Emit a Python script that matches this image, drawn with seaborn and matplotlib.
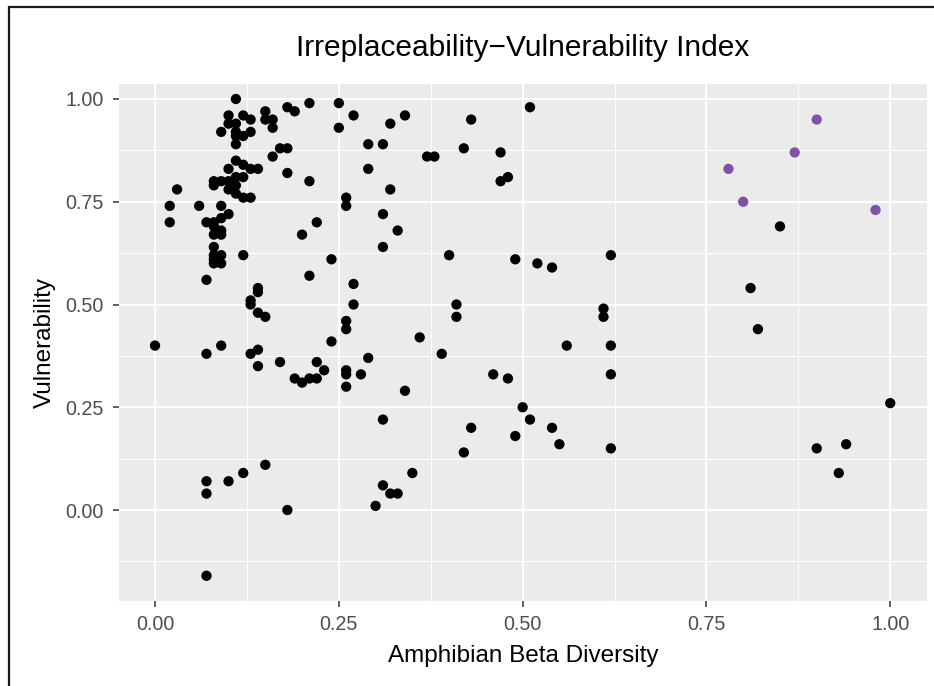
import pandas as pd
import numpy as np
import seaborn as sns
import matplotlib.pyplot as plt
from matplotlib.patches import Rectangle
from matplotlib.ticker import MultipleLocator

# beta diversity (x) and vulnerability (y)
beta = [0.00, 0.02, 0.02, 0.03, 0.06, 0.07, 0.07, 0.07, 0.07, 0.07, 0.07,
        0.08, 0.08, 0.08, 0.08, 0.08, 0.08, 0.08, 0.08, 0.08,
        0.09, 0.09, 0.09, 0.09, 0.09, 0.09, 0.09, 0.09, 0.09,
        0.10, 0.10, 0.10, 0.10, 0.10, 0.10, 0.10,
        0.11, 0.11, 0.11, 0.11, 0.11, 0.11, 0.11, 0.11, 0.11,
        0.12, 0.12, 0.12, 0.12, 0.12, 0.12, 0.12,
        0.13, 0.13, 0.13, 0.13, 0.13, 0.13, 0.13,
        0.14, 0.14, 0.14, 0.14, 0.14, 0.14,
        0.15, 0.15, 0.15, 0.15, 0.16, 0.16, 0.16, 0.17, 0.17,
        0.18, 0.18, 0.18, 0.18, 0.19, 0.19, 0.20, 0.20,
        0.21, 0.21, 0.21, 0.21, 0.22, 0.22, 0.22, 0.23, 0.24, 0.24,
        0.25, 0.25, 0.26, 0.26, 0.26, 0.26, 0.26, 0.26, 0.26,
        0.27, 0.27, 0.27, 0.28, 0.29, 0.29, 0.29, 0.30,
        0.31, 0.31, 0.31, 0.31, 0.31, 0.32, 0.32, 0.32, 0.33, 0.33,
        0.34, 0.34, 0.35, 0.36, 0.37, 0.38, 0.39, 0.40, 0.41, 0.41,
        0.42, 0.42, 0.43, 0.43, 0.46, 0.47, 0.47, 0.48, 0.48, 0.49, 0.49,
        0.50, 0.51, 0.51, 0.52, 0.54, 0.54, 0.55, 0.56,
        0.61, 0.61, 0.62, 0.62, 0.62, 0.62,
        0.81, 0.82, 0.85, 0.90, 0.93, 0.94, 1.00,
        0.78, 0.80, 0.87, 0.90, 0.98]
vuln = [0.40, 0.74, 0.70, 0.78, 0.74, 0.70, 0.56, 0.38, 0.07, 0.04, -0.16,
        0.80, 0.79, 0.70, 0.69, 0.67, 0.64, 0.62, 0.61, 0.60,
        0.92, 0.80, 0.74, 0.71, 0.68, 0.67, 0.62, 0.60, 0.40,
        0.96, 0.94, 0.83, 0.80, 0.78, 0.72, 0.07,
        1.00, 0.94, 0.92, 0.91, 0.89, 0.85, 0.81, 0.79, 0.77,
        0.96, 0.91, 0.84, 0.81, 0.76, 0.62, 0.09,
        0.95, 0.92, 0.83, 0.76, 0.51, 0.50, 0.38,
        0.83, 0.54, 0.53, 0.48, 0.39, 0.35,
        0.97, 0.95, 0.47, 0.11, 0.95, 0.93, 0.86, 0.88, 0.36,
        0.98, 0.88, 0.82, 0.00, 0.97, 0.32, 0.67, 0.31,
        0.99, 0.80, 0.57, 0.32, 0.70, 0.36, 0.32, 0.34, 0.61, 0.41,
        0.99, 0.93, 0.76, 0.74, 0.46, 0.44, 0.34, 0.33, 0.30,
        0.96, 0.55, 0.50, 0.33, 0.89, 0.83, 0.37, 0.01,
        0.89, 0.72, 0.64, 0.22, 0.06, 0.94, 0.78, 0.04, 0.68, 0.04,
        0.96, 0.29, 0.09, 0.42, 0.86, 0.86, 0.38, 0.62, 0.50, 0.47,
        0.88, 0.14, 0.95, 0.20, 0.33, 0.87, 0.80, 0.81, 0.32, 0.61, 0.18,
        0.25, 0.98, 0.22, 0.60, 0.59, 0.20, 0.16, 0.40,
        0.49, 0.47, 0.62, 0.40, 0.33, 0.15,
        0.54, 0.44, 0.69, 0.15, 0.09, 0.16, 0.26,
        0.83, 0.75, 0.87, 0.95, 0.73]
# last five sites are the highlighted ones
group = ["other"] * (len(beta) - 5) + ["top"] * 5

df = pd.DataFrame({"beta": beta, "vuln": vuln, "group": group})

plt.rcParams['font.family'] = ['Liberation Sans', 'DejaVu Sans']

fig = plt.figure(figsize=(9.34, 6.86), dpi=100)
ax = fig.add_axes([119 / 934, 85 / 686, 808 / 934, 517 / 686])
ax.set_facecolor('#EBEBEB')

# ggplot style grid
ax.xaxis.set_major_locator(MultipleLocator(0.25))
ax.yaxis.set_major_locator(MultipleLocator(0.25))
ax.xaxis.set_minor_locator(MultipleLocator(0.125))
ax.yaxis.set_minor_locator(MultipleLocator(0.125))
ax.grid(which='major', color='white', linewidth=1.4)
ax.grid(which='minor', color='white', linewidth=0.7)
ax.set_axisbelow(True)
for s in ax.spines.values():
    s.set_visible(False)

sns.scatterplot(data=df, x="beta", y="vuln", hue="group",
                palette={"other": "black", "top": "#8052A6"},
                s=55, linewidth=0, legend=False, ax=ax, zorder=3)

ax.set_xlim(-0.049, 1.050)
ax.set_ylim((511 - 602) / 411, (511 - 85) / 411)

ax.set_xticks([0, 0.25, 0.5, 0.75, 1.0])
ax.set_xticklabels(["0.00", "0.25", "0.50", "0.75", "1.00"])
ax.set_yticks([0, 0.25, 0.5, 0.75, 1.0])
ax.set_yticklabels(["0.00", "0.25", "0.50", "0.75", "1.00"])
ax.tick_params(which='major', length=4, width=1.1, color='#333333',
               labelcolor='#4D4D4D', labelsize=14.2)
ax.tick_params(axis='y', pad=7)
ax.tick_params(axis='x', pad=6)
ax.tick_params(which='minor', length=0)

ax.set_xlabel("Amphibian Beta Diversity", fontsize=17.5, labelpad=8)
ax.set_ylabel("Vulnerability", fontsize=17.5, labelpad=7)
ax.set_title("Irreplaceability\u2212Vulnerability Index", fontsize=21.5, pad=20)

# black frame around the figure
fig.patches.append(Rectangle((8.5 / 934, -0.1), 1.2, (686 - 7) / 686 + 0.1,
                             transform=fig.transFigure, fill=False,
                             edgecolor='#1A1A1A', linewidth=1.6))

fig.savefig("out.png", dpi=100)
